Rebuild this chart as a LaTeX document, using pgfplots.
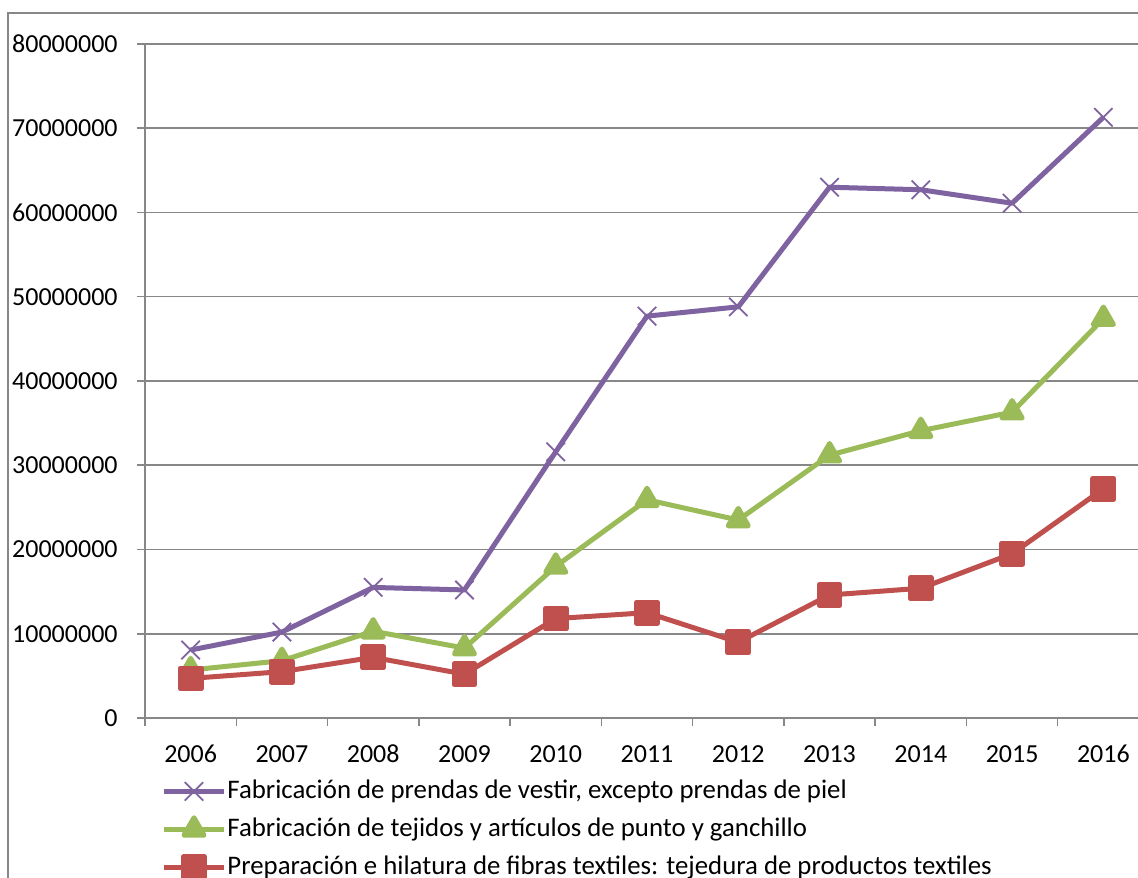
\documentclass[border=0pt]{standalone}
\usepackage{pgfplots}
\pgfplotsset{compat=1.18}
\usepackage{fontspec}
\setmainfont{Carlito}
\definecolor{cpurple}{HTML}{7F63A1}
\definecolor{cgreen}{HTML}{9BBB59}
\definecolor{cred}{HTML}{C0504D}
\definecolor{cgrid}{HTML}{878787}

\begin{document}
\begin{tikzpicture}[x=1pt,y=1pt]
\useasboundingbox (0,0) rectangle (569,438.5);
\clip (0,0) rectangle (569,438.5);
\fill[white] (0,0) rectangle (569,438.5);
% chart area frame (only left and top edges are visible)
\draw[cgrid, line width=1pt] (4,-5) -- (4,432) -- (580,432);
\begin{axis}[
  at={(72.5pt,79.5pt)}, anchor=south west,
  scale only axis, width=502pt, height=337pt,
  xmin=-0.5, xmax=10.5, ymin=0, ymax=80000000,
  scaled x ticks=false, scaled y ticks=false,
  axis x line*=bottom, axis y line*=left,
  axis line style={-, draw=cgrid, line width=0.75pt},
  tick align=outside, major tick length=4pt,
  tick style={cgrid, line width=0.75pt},
  xtick={-0.5,0.5,1.5,2.5,3.5,4.5,5.5,6.5,7.5,8.5,9.5,10.5},
  xticklabels={,,,,,,,,,,,},
  extra x ticks={0,1,2,3,4,5,6,7,8,9,10},
  extra x tick labels={2006,2007,2008,2009,2010,2011,2012,2013,2014,2015,2016},
  extra x tick style={major tick length=0pt, grid=none},
  ytick={0,10000000,20000000,30000000,40000000,50000000,60000000,70000000,80000000},
  yticklabels={0,10000000,20000000,30000000,40000000,50000000,60000000,70000000,80000000},
  ymajorgrids, grid style={cgrid, line width=0.75pt},
  ticklabel style={font=\fontsize{13}{15}\selectfont},
  xticklabel style={anchor=base, yshift=-22pt, inner sep=0pt},
  yticklabel style={anchor=east, inner sep=0pt, xshift=-9.5pt},
  legend style={at={(0.016,-0.089)}, anchor=north west, draw=none, fill=none,
    inner sep=0pt, row sep=6pt,
    nodes={inner xsep=0.5pt, inner ysep=0pt, text height=10pt, text depth=3pt,
      font=\fontsize{13.4}{15}\selectfont},
    cells={anchor=west}},
  legend image code/.code={\draw[mark repeat=2, mark phase=2, #1]
    plot coordinates {(0pt,0pt) (15pt,0pt) (30pt,0pt)};},
  every axis plot/.append style={line width=2.5pt, line join=round},
]
\addplot[cpurple, mark=x, mark size=6.5pt, mark options={line width=0.9pt, solid}] coordinates {
  (0,8070000) (1,10200000) (2,15500000) (3,15200000) (4,31600000) (5,47700000)
  (6,48800000) (7,63000000) (8,62700000) (9,61100000) (10,71300000)
};
\addlegendentry{Fabricación de prendas de vestir, excepto prendas de piel}
\addplot[cgreen, mark=triangle*, mark size=5.8pt, mark options={solid}] coordinates {
  (0,5700000) (1,6800000) (2,10300000) (3,8300000) (4,18000000) (5,25900000)
  (6,23500000) (7,31200000) (8,34100000) (9,36300000) (10,47400000)
};
\addlegendentry{Fabricación de tejidos y artículos de punto y ganchillo}
\addplot[cred, mark=square*, mark size=5.2pt, mark options={solid}] coordinates {
  (0,4700000) (1,5500000) (2,7200000) (3,5200000) (4,11800000) (5,12500000)
  (6,9000000) (7,14600000) (8,15400000) (9,19500000) (10,27200000)
};
\addlegendentry{Preparación e hilatura de fibras textiles: tejedura de productos textiles}
\end{axis}
\end{tikzpicture}
\end{document}
